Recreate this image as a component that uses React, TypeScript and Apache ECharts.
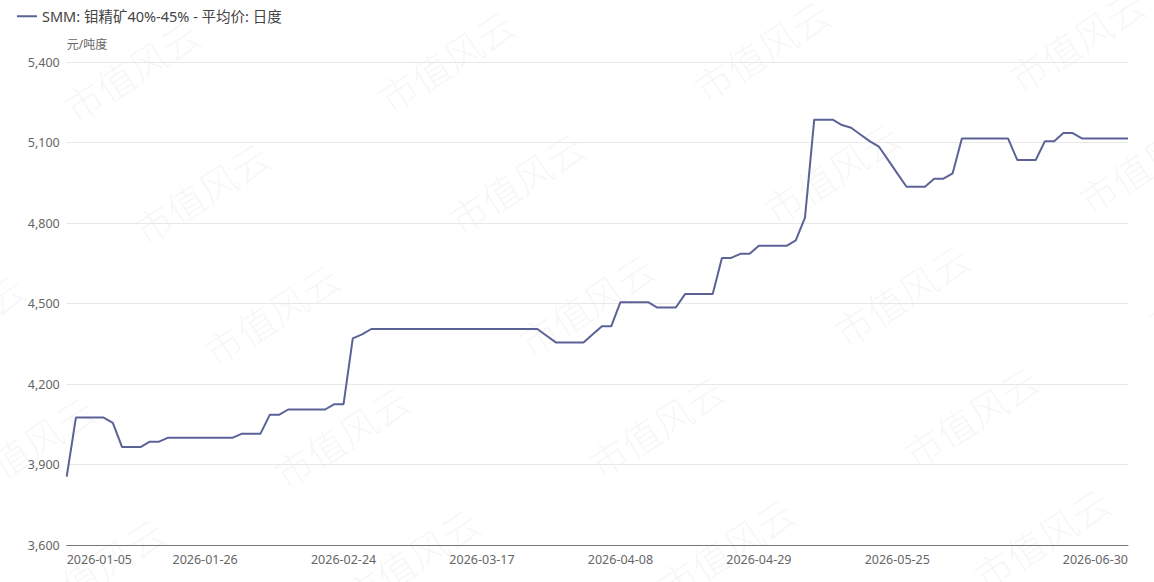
import React, { useEffect, useRef } from "react";
import * as echarts from "echarts";

// Trading days per month (2026)
const janDays = [5, 6, 7, 8, 9, 12, 13, 14, 15, 16, 19, 20, 21, 22, 23, 26, 27, 28, 29, 30];
const febDays = [2, 3, 4, 5, 6, 9, 10, 11, 12, 13, 24, 25, 26, 27];
const marDays = [2, 3, 4, 5, 6, 9, 10, 11, 12, 13, 16, 17, 18, 19, 20, 23, 24, 25, 26, 27, 30, 31];
const aprDays = [1, 2, 3, 7, 8, 9, 10, 13, 14, 15, 16, 17, 20, 21, 22, 23, 24, 27, 28, 29, 30];
const mayDays = [6, 7, 8, 11, 12, 13, 14, 15, 18, 19, 20, 21, 22, 25, 26, 27, 28, 29];
const junDays = [1, 2, 3, 4, 5, 8, 9, 10, 11, 12, 15, 16, 17, 18, 22, 23, 24, 25, 26, 29, 30];

const seriesName = "SMM: 钼精矿40%-45% - 平均价: 日度";
const unitName = "元/吨度";

const janValues = [3855, 4075, 4075, 4075, 4075, 4055, 3965, 3965, 3965, 3985, 3985, 4000, 4000, 4000, 4000, 4000, 4000, 4000, 4000, 4015];
const febValues = [4015, 4015, 4085, 4085, 4105, 4105, 4105, 4105, 4105, 4125, 4125, 4370, 4385, 4405];
const marValues = [4405, 4405, 4405, 4405, 4405, 4405, 4405, 4405, 4405, 4405, 4405, 4405, 4405, 4405, 4405, 4405, 4405, 4405, 4380, 4355, 4355, 4355];
const aprValues = [4355, 4385, 4415, 4415, 4505, 4505, 4505, 4505, 4485, 4485, 4485, 4535, 4535, 4535, 4535, 4670, 4670, 4685, 4685, 4715, 4715];
const mayValues = [4715, 4715, 4735, 4820, 5185, 5185, 5185, 5165, 5155, 5130, 5105, 5085, 5035, 4985, 4935, 4935, 4935, 4965];
const junValues = [4965, 4985, 5115, 5115, 5115, 5115, 5115, 5115, 5035, 5035, 5035, 5105, 5105, 5135, 5135, 5115, 5115, 5115, 5115, 5115, 5115];

const yTicks = [3600, 3900, 4200, 4500, 4800, 5100, 5400];

const pad = (n: number) => (n < 10 ? "0" + n : "" + n);
const months: [string, number[]][] = [
  ["01", janDays],
  ["02", febDays],
  ["03", marDays],
  ["04", aprDays],
  ["05", mayDays],
  ["06", junDays],
];
const categories: string[] = [];
months.forEach(([m, days]) => days.forEach((d) => categories.push(`2026-${m}-${pad(d)}`)));
const values: number[] = [...janValues, ...febValues, ...marValues, ...aprValues, ...mayValues, ...junValues];

const watermarkText = "市值风云";

function buildWatermarks() {
  const els: any[] = [];
  const base = [516, 182];
  const a = [315, -10];
  const b = [70, 122];
  for (let r = -2; r <= 4; r++) {
    for (let c = -3; c <= 3; c++) {
      const x = base[0] + c * a[0] + r * b[0];
      const y = base[1] + c * a[1] + r * b[1];
      if (x < -120 || x > 1280 || y < -80 || y > 660) continue;
      els.push({
        type: "text",
        x,
        y,
        rotation: (32.7 * Math.PI) / 180,
        silent: true,
        z: 0,
        style: {
          text: watermarkText,
          fontSize: 38,
          fontFamily: "Noto Sans CJK SC",
          fontWeight: 300,
          fill: "rgba(0,0,0,0.055)",
          align: "center",
          verticalAlign: "middle",
        },
      });
    }
  }
  return els;
}

export default function App() {
  const ref = useRef<HTMLDivElement>(null);
  useEffect(() => {
    if (!ref.current) return;
    const chart = echarts.init(ref.current, null, { renderer: "svg" });
    const lastIdx = categories.length - 1;
    chart.setOption({
      animation: false,
      backgroundColor: "#ffffff",
      textStyle: { fontFamily: "'Noto Sans', 'Noto Sans CJK SC', sans-serif" },
      graphic: buildWatermarks(),
      legend: {
        left: 12,
        top: 4,
        icon: "rect",
        itemWidth: 20,
        itemHeight: 2,
        itemGap: 10,
        textStyle: { fontSize: 14.5, color: "#444" },
        data: [seriesName],
      },
      grid: { left: 66.7, right: 26, top: 62, bottom: 37, containLabel: false },
      xAxis: {
        type: "category",
        data: categories,
        boundaryGap: false,
        axisLine: { lineStyle: { color: "#777" } },
        axisTick: { show: false },
        axisLabel: {
          color: "#666",
          fontSize: 12.5,
          margin: 8,
          interval: (i: number) => (i % 15 === 0 && i <= 90) || i === lastIdx,
          alignMinLabel: "left",
          alignMaxLabel: "right",
        },
        splitLine: { show: false },
      },
      yAxis: {
        type: "value",
        min: yTicks[0],
        max: yTicks[yTicks.length - 1],
        interval: 300,
        name: unitName,
        nameLocation: "end",
        nameGap: 12,
        nameTextStyle: { color: "#666", fontSize: 12, align: "left" },
        axisLine: { show: false },
        axisTick: { show: false },
        axisLabel: {
          color: "#666",
          fontSize: 12.5,
          margin: 7,
          formatter: (v: number) => v.toLocaleString("en-US"),
        },
        splitLine: { lineStyle: { color: "#e8e8e8" } },
      },
      series: [
        {
          name: seriesName,
          type: "line",
          data: values,
          showSymbol: false,
          symbol: "none",
          z: 3,
          lineStyle: { color: "#5b6396", width: 2 },
          itemStyle: { color: "#5b6396" },
        },
      ],
    });
    return () => chart.dispose();
  }, []);
  return (
    <div
      ref={ref}
      style={{ position: "fixed", left: 0, top: 0, width: 1154, height: 582 }}
    />
  );
}
